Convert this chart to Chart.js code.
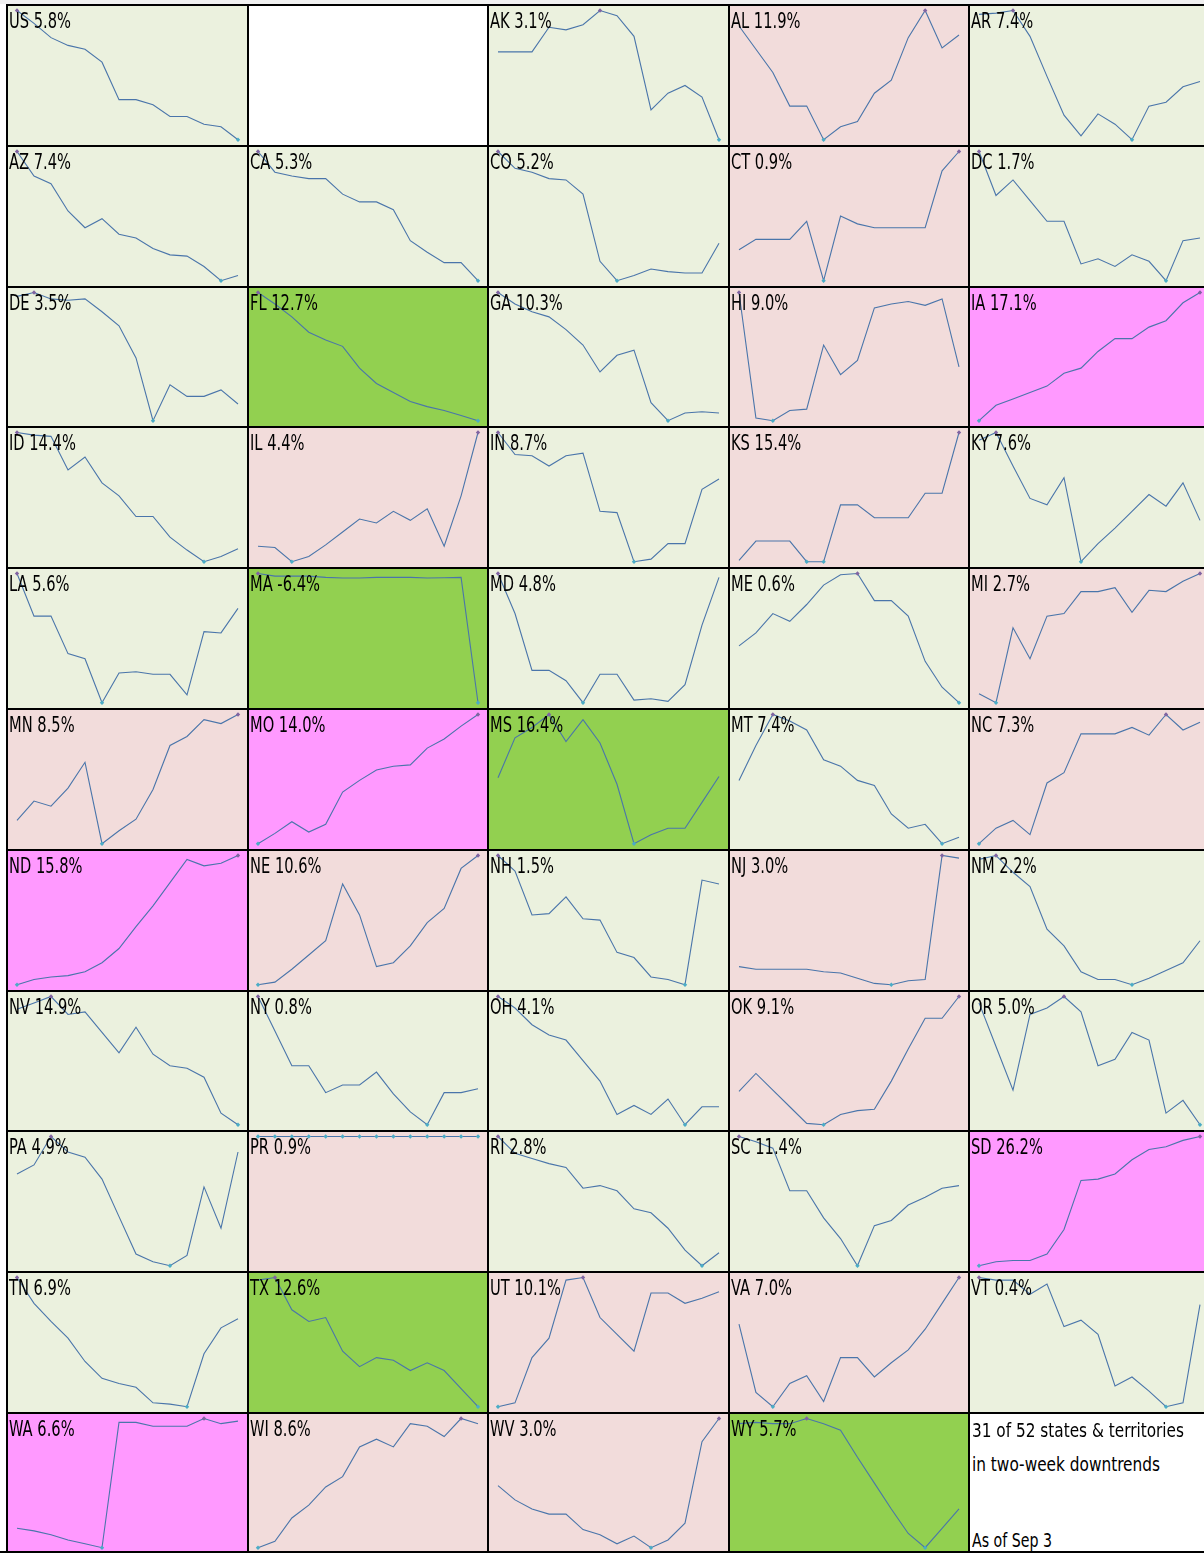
<!DOCTYPE html>
<html>
<head>
<meta charset="utf-8">
<script src="https://cdn.jsdelivr.net/npm/chart.js"></script>
<style>
  html, body { margin: 0; padding: 0; background: #fff; }
  #page { position: relative; width: 1204px; height: 1553px; overflow: hidden; background: #fff; }
  #topband { position: absolute; left: 0; top: 0; width: 1204px; height: 4px; background: #f0f0f0; }
  .cell { position: absolute; box-sizing: border-box; border-left: 2px solid #000; border-top: 2px solid #000; }
  .cell canvas { position: absolute; left: 0; top: 0; }
  .lab { position: absolute; left: 1px; line-height: 0; white-space: nowrap; color: #000;
         font-family: 'Liberation Sans Narrow', 'Arial Narrow', 'DejaVu Sans Condensed', sans-serif;
         transform-origin: 0 0; z-index: 2; }
  #bottomline { position: absolute; left: 0; top: 1551px; width: 1204px; height: 2px; background: #000; z-index: 5; }
</style>
</head>
<body>
<div id="page"><div id="topband"></div><div id="bottomline"></div></div>
<script>
  // grid order, 5 per row; null = blank cell, last cell holds the note
  const states = ['US', null, 'AK', 'AL', 'AR',
    'AZ', 'CA', 'CO', 'CT', 'DC',
    'DE', 'FL', 'GA', 'HI', 'IA',
    'ID', 'IL', 'IN', 'KS', 'KY',
    'LA', 'MA', 'MD', 'ME', 'MI',
    'MN', 'MO', 'MS', 'MT', 'NC',
    'ND', 'NE', 'NH', 'NJ', 'NM',
    'NV', 'NY', 'OH', 'OK', 'OR',
    'PA', 'PR', 'RI', 'SC', 'SD',
    'TN', 'TX', 'UT', 'VA', 'VT',
    'WA', 'WI', 'WV', 'WY'];

  const change = [5.8, null, 3.1, 11.9, 7.4,
    7.4, 5.3, 5.2, 0.9, 1.7,
    3.5, 12.7, 10.3, 9.0, 17.1,
    14.4, 4.4, 8.7, 15.4, 7.6,
    5.6, -6.4, 4.8, 0.6, 2.7,
    8.5, 14.0, 16.4, 7.4, 7.3,
    15.8, 10.6, 1.5, 3.0, 2.2,
    14.9, 0.8, 4.1, 9.1, 5.0,
    4.9, 0.9, 2.8, 11.4, 26.2,
    6.9, 12.6, 10.1, 7.0, 0.4,
    6.6, 8.6, 3.0, 5.7];

  // d = two-week downtrend, D = steep downtrend, u = uptrend, U = steep uptrend
  const trend = ['d', null, 'd', 'u', 'd',
    'd', 'd', 'd', 'u', 'd',
    'd', 'D', 'd', 'u', 'U',
    'd', 'u', 'd', 'u', 'd',
    'd', 'D', 'd', 'd', 'u',
    'u', 'U', 'D', 'd', 'u',
    'U', 'u', 'd', 'u', 'd',
    'd', 'd', 'd', 'u', 'd',
    'd', 'u', 'd', 'd', 'U',
    'd', 'D', 'u', 'u', 'd',
    'U', 'u', 'u', 'D'];

  const weeks = [1, 2, 3, 4, 5, 6, 7, 8, 9, 10, 11, 12, 13, 14];

  // relative level of each series (each sparkline is scaled on its own)
  const series = [
    [100, 90, 79, 73, 70, 60, 31, 31, 27, 18, 18, 12, 10, 0],
    null,
    [68, 68, 68, 87, 85, 89, 100, 96, 80, 23, 36, 42, 33, 0],
    [88, 70, 52, 26, 26, 0, 10, 14, 36, 46, 79, 100, 71, 81],
    [97, 98, 100, 80, 49, 19, 3, 20, 12, 0, 26, 29, 41, 45],
    [100, 81, 75, 54, 41, 48, 36, 33, 25, 20, 19, 11, 0, 4],
    [100, 84, 81, 79, 79, 67, 61, 61, 55, 31, 22, 14, 14, 0],
    [100, 87, 84, 79, 78, 67, 15, 0, 4, 9, 7, 6, 6, 29],
    [24, 32, 32, 32, 46, 0, 50, 44, 41, 41, 41, 41, 85, 100],
    [100, 66, 78, 62, 46, 46, 13, 17, 11, 20, 15, 0, 31, 33],
    [97, 100, 95, 94, 95, 85, 74, 49, 0, 28, 19, 19, 24, 13],
    [100, 91, 81, 69, 63, 58, 41, 29, 22, 15, 11, 8, 4, 0],
    [100, 91, 85, 81, 71, 59, 38, 51, 55, 14, 0, 6, 7, 6],
    [100, 2, 0, 8, 9, 59, 36, 47, 88, 91, 93, 90, 95, 42],
    [0, 12, 17, 22, 27, 37, 41, 54, 64, 64, 73, 78, 92, 100],
    [100, 98, 97, 71, 81, 61, 51, 35, 35, 19, 9, 0, 4, 10],
    [12, 11, 0, 4, 13, 23, 33, 30, 39, 32, 41, 12, 51, 100],
    [100, 83, 82, 74, 82, 84, 39, 38, 0, 2, 14, 14, 56, 64],
    [1, 16, 16, 16, 0, 0, 44, 44, 34, 34, 34, 53, 53, 100],
    [94, 100, 74, 49, 44, 65, 0, 14, 26, 39, 52, 43, 61, 32],
    [100, 67, 67, 38, 34, 0, 23, 24, 22, 22, 6, 55, 54, 73],
    [100, 98, 98, 98, 97, 96.5, 96.5, 97, 97, 97, 96.5, 96.7, 97, 0],
    [100, 69, 25, 25, 17, 0, 22, 22, 2, 3, 1, 14, 60, 97],
    [44, 54, 69, 63, 76, 91, 99, 100, 79, 79, 67, 32, 12, 0],
    [7, 0, 58, 34, 67, 69, 86, 86, 89, 70, 87, 86, 94, 100],
    [18, 33, 29, 43, 63, 0, 10, 19, 42, 76, 83, 96, 93, 100],
    [0, 8, 17, 9, 15, 40, 49, 57, 60, 61, 74, 81, 91, 100],
    [51, 82, 90, 100, 79, 96, 78, 46, 0, 7, 12, 12, 32, 52],
    [49, 76, 100, 95, 88, 65, 60, 49, 45, 23, 12, 15, 0, 5],
    [0, 12, 18, 7, 47, 55, 85, 85, 85, 90, 84, 100, 88, 94],
    [0, 4, 6, 7, 10, 17, 28, 45, 61, 79, 97, 92, 94, 100],
    [0, 2, 12, 23, 34, 78, 54, 14, 17, 30, 48, 59, 90, 100],
    [100, 88, 54, 55, 68, 51, 50, 25, 21, 6, 4, 0, 81, 78],
    [14, 12, 12, 12, 12, 10, 9, 5, 1, 0, 3, 4, 100, 98],
    [97, 100, 87, 76, 43, 30, 10, 4, 4, 0, 5, 11, 17, 34],
    [90, 95, 100, 86, 88, 72, 56, 76, 55, 46, 44, 37, 9, 0],
    [100, 73, 46, 46, 25, 31, 31, 41, 24, 10, 0, 25, 25, 28],
    [100, 91, 78, 70, 66, 50, 34, 8, 15, 8, 20, 0, 14, 14],
    [26, 40, 27, 14, 1, 0, 8, 11, 12, 34, 59, 83, 83, 100],
    [95, 61, 27, 86, 91, 100, 88, 46, 51, 72, 66, 9, 19, 0],
    [71, 78, 100, 88, 84, 67, 38, 9, 3, 0, 8, 61, 29, 88],
    [100, 100, 100, 100, 100, 100, 100, 100, 100, 100, 100, 100, 100, 100],
    [100, 87, 83, 79, 76, 60, 62, 58, 44, 41, 29, 12, 0, 10],
    [100, 96, 91, 58, 58, 37, 21, 0, 31, 35, 47, 53, 60, 62],
    [0, 3, 4, 4, 9, 28, 66, 67, 71, 82, 90, 92, 97, 100],
    [100, 80, 66, 53, 35, 22, 18, 15, 3, 2, 0, 41, 61, 68],
    [98, 100, 75, 66, 69, 43, 31, 38, 36, 28, 34, 28, 14, 0],
    [0, 3, 38, 53, 98, 100, 69, 56, 43, 88, 88, 80, 84, 89],
    [64, 11, 0, 18, 24, 4, 38, 38, 23, 34, 44, 60, 80, 100],
    [100, 98, 98, 87, 95, 62, 67, 56, 16, 23, 12, 0, 3, 79],
    [15, 13, 10, 6, 3, 0, 97, 97, 94, 94, 94, 100, 96, 98],
    [0, 5, 23, 33, 47, 55, 78, 84, 78, 96, 94, 86, 100, 96],
    [48, 37, 30, 26, 26, 14, 10, 3, 9, 0, 6, 19, 82, 100],
    [96, 97, 96, 96, 100, 96, 91, 70, 50, 30, 11, 0, 15, 30]
  ];

  const note = ['31 of 52 states & territories', 'in two-week downtrends', 'As of Sep 3'];

  const fillColor = { d: '#ebf1de', D: '#92d050', u: '#f2dcdb', U: '#ff99ff' };
  const LINE = '#4a75aa', HIGH = '#8064a2', LOW = '#4bacc6';
  const FONT = "'Liberation Sans Narrow', 'Arial Narrow', 'DejaVu Sans Condensed', sans-serif";

  const page = document.getElementById('page');
  const colX = k => Math.round(7 + 240.5 * k) - 1;
  const rowY = k => Math.round(5 + 140.8 * k) - 1;

  // squeeze text to the width it has in the original
  const mctx = document.createElement('canvas').getContext('2d');
  function fitScale(text, size, target) {
    mctx.font = size + 'px ' + FONT;
    return target / mctx.measureText(text).width;
  }
  const squeeze = fitScale('US 5.8%', 21.8, 62);

  function makeCell(i) {
    const col = i % 5, row = Math.floor(i / 5);
    const div = document.createElement('div');
    div.className = 'cell';
    div.style.left = colX(col) + 'px';
    div.style.top = rowY(row) + 'px';
    div.style.width = (colX(col + 1) - colX(col)) + 'px';
    div.style.height = (rowY(row + 1) - rowY(row)) + 'px';
    page.appendChild(div);
    return div;
  }

  for (let i = 0; i < 55; i++) {
    const div = makeCell(i);
    if (i === 54) {
      const base = [22.3, 56.3, 132.3];
      const widths = [212, 188, 80];
      note.forEach((t, k) => {
        const s = document.createElement('div');
        s.className = 'lab';
        s.textContent = t;
        s.style.left = '2px';
        s.style.fontSize = '19px';
        s.style.top = (base[k] - 0.3465 * 19) + 'px';
        s.style.transform = 'scaleX(' + fitScale(t, 19, widths[k]) + ')';
        div.appendChild(s);
      });
      div.style.background = '#fff';
      continue;
    }
    if (!states[i]) { div.style.background = '#fff'; continue; }

    div.style.background = fillColor[trend[i]];
    const w = colX(i % 5 + 1) - colX(i % 5) - 2;
    const h = rowY(Math.floor(i / 5) + 1) - rowY(Math.floor(i / 5)) - 2;
    const cv = document.createElement('canvas');
    cv.width = w; cv.height = h;
    cv.style.width = w + 'px'; cv.style.height = h + 'px';
    div.appendChild(cv);

    const lab = document.createElement('div');
    lab.className = 'lab';
    lab.textContent = states[i] + ' ' + change[i].toFixed(1) + '%';
    lab.style.fontSize = '21.8px';
    lab.style.top = (22.3 - 0.3465 * 21.8) + 'px';
    lab.style.transform = 'scaleX(' + squeeze + ')';
    div.appendChild(lab);

    const vals = series[i];
    const hi = Math.max(...vals), lo = Math.min(...vals);
    new Chart(cv, {
      type: 'line',
      data: {
        labels: weeks,
        datasets: [{
          data: vals,
          borderColor: LINE,
          borderWidth: 1.1,
          tension: 0,
          fill: false,
          clip: false,
          pointStyle: 'rectRot',
          pointRadius: vals.map(v => (v === hi || v === lo) ? 2.2 : 0),
          pointBackgroundColor: vals.map(v => v === lo ? LOW : HIGH),
          pointBorderColor: vals.map(v => v === lo ? LOW : HIGH),
          pointBorderWidth: 0
        }]
      },
      options: {
        responsive: false,
        animation: false,
        events: [],
        layout: { padding: { left: 9, right: 9, top: 4.5, bottom: 5.3 } },
        plugins: { legend: { display: false }, tooltip: { enabled: false } },
        scales: {
          x: { display: false },
          y: { display: false, min: hi === lo ? lo - 1 : lo, max: hi }
        }
      }
    });
  }
</script>
</body>
</html>
